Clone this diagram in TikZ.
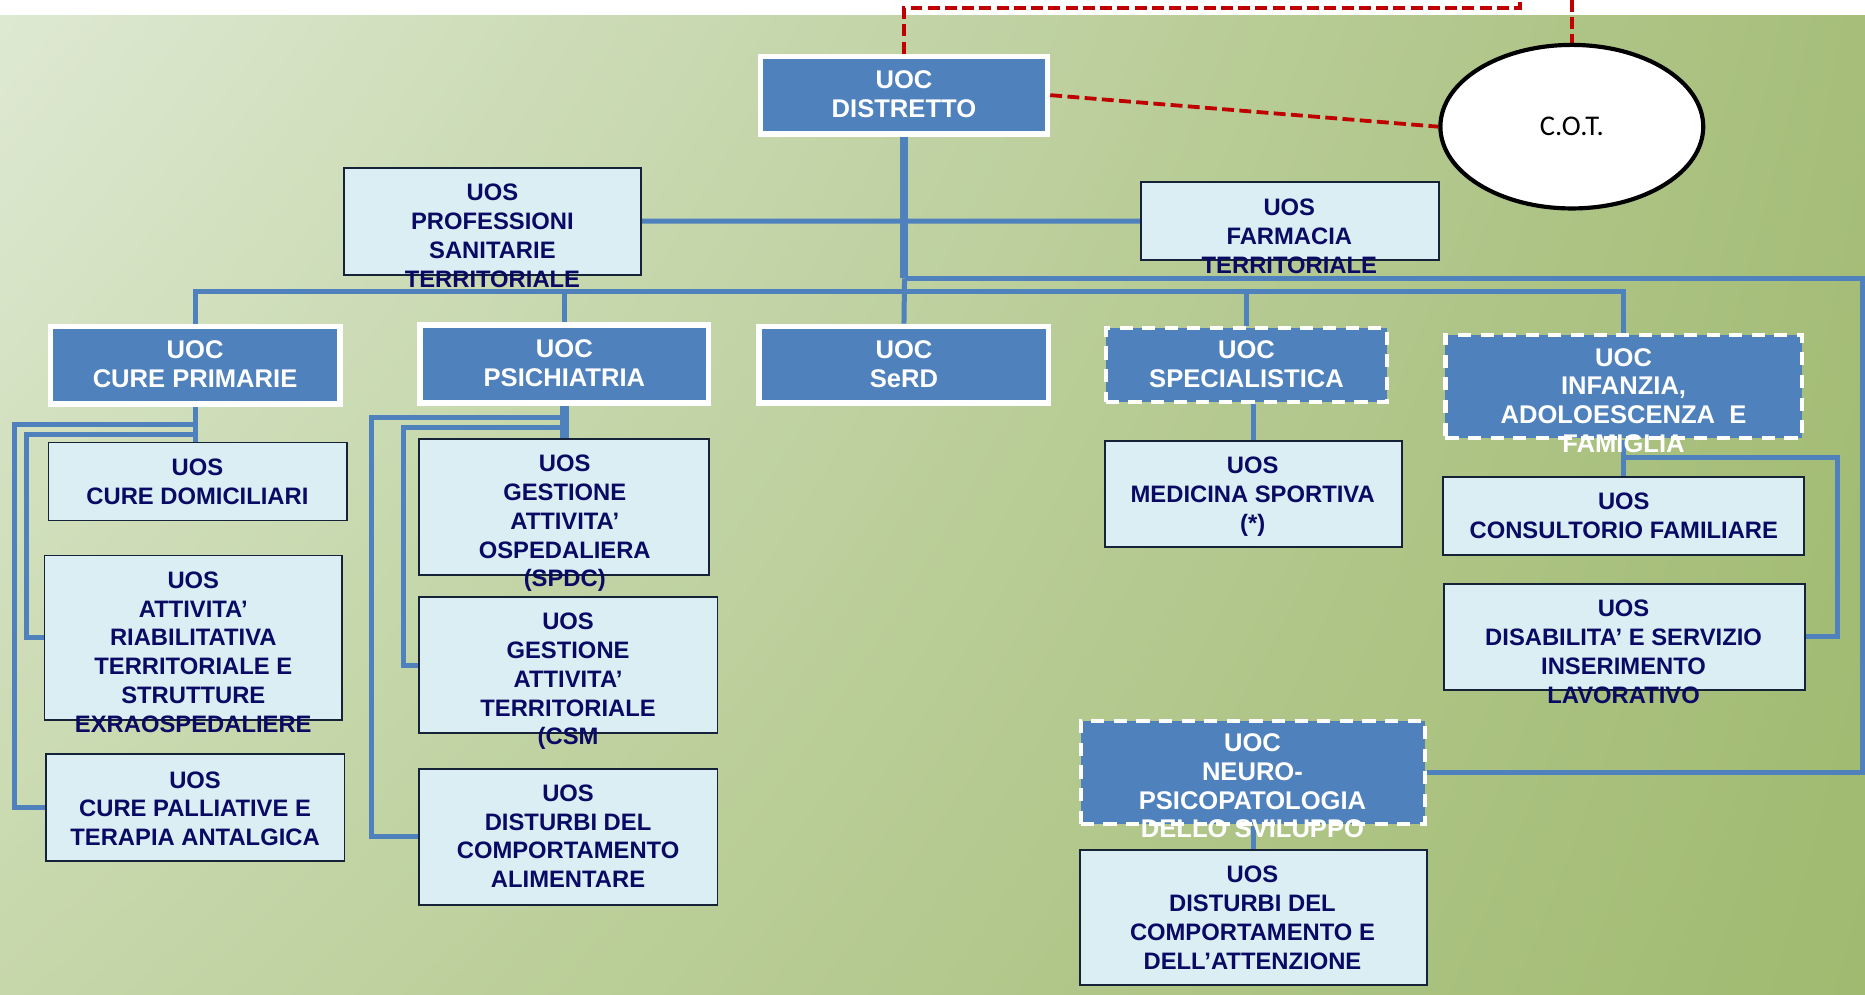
\documentclass[tikz,border=0pt]{standalone}
\usepackage{fontspec}
\setmainfont{Liberation Sans}
\newfontfamily\cotfont{Carlito}
\usetikzlibrary{shapes.geometric,shadings}
\pgfdeclarelayer{bglayer}
\pgfdeclarelayer{linelayer}
\pgfsetlayers{bglayer,linelayer,main}
\definecolor{uocblue}{RGB}{79,129,189}
\definecolor{uosfill}{RGB}{219,238,244}
\definecolor{uosborder}{RGB}{22,34,56}
\definecolor{navy}{RGB}{10,10,100}
\definecolor{cotred}{RGB}{192,0,0}
\definecolor{bgul}{RGB}{222,233,210}
\definecolor{bgur}{RGB}{166,190,122}
\definecolor{bgll}{RGB}{198,215,170}
\definecolor{bglr}{RGB}{160,186,112}
\newcommand{\obox}[6]{\node[#1, minimum width={(#5)-(#3)}, minimum height={(#6)-(#4)}] (#2) at ({((#3)+(#5))/2},{((#4)+(#6))/2}) {};}
\tikzset{
  uocbox/.style={rectangle, draw=white, line width=4.5pt, fill=uocblue, inner sep=0pt},
  uocdash/.style={rectangle, draw=white, line width=3.5pt, fill=uocblue, dash pattern=on 11pt off 8pt, inner sep=0pt},
  uosbox/.style={rectangle, draw=uosborder, line width=1.5pt, fill=uosfill, inner sep=0pt},
  uoctext/.style={anchor=north, yshift=7.9pt, inner sep=0pt, align=center, text=white, font=\bfseries\fontsize{21.5}{24.2}\selectfont},
  uostext/.style={anchor=north, yshift=7.3pt, inner sep=0pt, align=center, text=navy, font=\bfseries\fontsize{20}{24.2}\selectfont},
  conn/.style={draw=uocblue, line width=4.2pt},
  trunkline/.style={draw=uocblue, line width=7pt},
  reddash/.style={draw=cotred, line width=3.2pt, dash pattern=on 10pt off 4.5pt},
}
\begin{document}
\begin{tikzpicture}[x=1pt,y=-1pt]
\useasboundingbox (0,0) rectangle (1568,836);
% background
\begin{pgfonlayer}{bglayer}
\fill[white] (0,0) rectangle (1568,836);
\shade[upper left=bgul, upper right=bgur, lower left=bgll, lower right=bglr] (0,13) rectangle (1568,836);
\end{pgfonlayer}

% boxes
\obox{uocbox}{dist}{639.25}{47.25}{880.75}{112.75}
\obox{uocbox}{cp}{42.25}{274.25}{285.75}{339.75}
\obox{uocbox}{psi}{353.25}{273.25}{595.75}{338.75}
\obox{uocbox}{serd}{638.25}{274.25}{881.75}{338.75}
\obox{uocdash}{spec}{929.75}{275.75}{1166.25}{338.25}
\obox{uocdash}{inf}{1215.25}{281.75}{1515.25}{368.25}
\obox{uocdash}{neuro}{908.75}{606.25}{1198.25}{692.95}
\obox{uosbox}{prof}{289}{141}{539}{231}
\obox{uosbox}{farm}{959}{153.3}{1209.5}{218.6}
\obox{uosbox}{dom}{40.8}{372}{291.8}{437.6}
\obox{uosbox}{att}{37.5}{467}{287.7}{605.4}
\obox{uosbox}{pal}{38.7}{634}{289.7}{724}
\obox{uosbox}{osp}{352.5}{368.8}{596.3}{483.4}
\obox{uosbox}{ter}{352.5}{502}{603.2}{616.5}
\obox{uosbox}{ali}{352.5}{646.2}{603.2}{760.8}
\obox{uosbox}{med}{928.7}{370.7}{1178.7}{460.2}
\obox{uosbox}{cons}{1213.5}{400.8}{1517}{466.4}
\obox{uosbox}{dis}{1214}{490.7}{1517.3}{580.2}
\obox{uosbox}{adhd}{907.7}{714.7}{1199.6}{828}

\node[ellipse, draw=black, line width=3.5pt, fill=white, minimum width=221pt, minimum height=137.5pt, inner sep=0pt, font=\cotfont\fontsize{24}{28}\selectfont] (cot) at (1321.5,106.5) {C.O.T.};

% helper coordinates
\coordinate (tj) at (760.5,234);
\coordinate (busy) at (0,245);
\coordinate (rightx) at (1565.8,234);
\coordinate (cpb1) at (12,357);
\coordinate (cpb2) at (22.4,365.6);
\coordinate (psb1) at (312.6,350.6);
\coordinate (psb2) at (339.5,359.6);
\coordinate (ifb) at (1544.8,385);
\coordinate (rcorner) at (1278,7);
\coordinate (rtop) at (1278,0);

% connectors
\begin{pgfonlayer}{linelayer}
\draw[trunkline] (dist.south) -- (dist.south |- tj);
\draw[conn] (tj) -- (serd.north);
\draw[conn] (prof.east) -- (farm.west);
\draw[conn] (tj) -- (rightx) |- (neuro.east);
\draw[conn] (cp.north) -- (cp.north |- busy) -| (inf.north);
\draw[conn] (psi.north) -- (psi.north |- busy);
\draw[conn] (spec.north) -- (spec.north |- busy);
\draw[conn] (cp.south) -- (cp.south |- dom.north);
\draw[conn] (cp.south |- cpb1) -- (cpb1) |- (pal.west);
\draw[conn] (cp.south |- cpb2) -- (cpb2) |- (att.west);
\draw[trunkline] (psi.south) -- (psi.south |- osp.north);
\draw[conn] (psi.south |- psb1) -- (psb1) |- (ali.west);
\draw[conn] (psi.south |- psb2) -- (psb2) |- (ter.west);
\draw[conn] (med.north |- spec.south) -- (med.north);
\draw[conn] (inf.south) -- (inf.south |- cons.north);
\draw[conn] (inf.south |- ifb) -- (ifb) |- (dis.east);
\draw[conn] (neuro.south) -- (neuro.south |- adhd.north);
\draw[reddash] (dist.north) -- (dist.north |- rcorner) -- (rcorner) -- (rtop);
\draw[reddash] (cot.north |- rtop) -- (cot.north);
\draw[reddash] (dist.east) -- (cot.west);
\end{pgfonlayer}

% texts
\node[uoctext] (dist-t) at (760,67) {UOC\\DISTRETTO};
\node[uoctext] (cp-t) at (164,294) {UOC\\CURE PRIMARIE};
\node[uoctext] (psi-t) at (474.5,293.5) {UOC\\PSICHIATRIA};
\node[uoctext] (serd-t) at (760,294) {UOC\\SeRD};
\node[uoctext] (spec-t) at (1048,294.3) {UOC\\SPECIALISTICA};
\node[uoctext] (inf-t) at (1365,300.4) {UOC\\INFANZIA,\\ADOLOESCENZA\ \ E\\FAMIGLIA};
\node[uoctext] (neuro-t) at (1053,624.5) {UOC\\NEURO-\\PSICOPATOLOGIA\\DELLO SVILUPPO};
\node[uostext] (prof-t) at (414,162) {UOS\\PROFESSIONI\\SANITARIE\\TERRITORIALE};
\node[uostext] (farm-t) at (1084,174.4) {UOS\\FARMACIA\\TERRITORIALE};
\node[uostext] (dom-t) at (166,393) {UOS\\CURE DOMICILIARI};
\node[uostext] (att-t) at (162.5,487.7) {UOS\\ATTIVITA’\\RIABILITATIVA\\TERRITORIALE E\\STRUTTURE\\EXRAOSPEDALIERE};
\node[uostext] (pal-t) at (164,655.8) {UOS\\CURE PALLIATIVE E\\TERAPIA ANTALGICA};
\node[uostext] (osp-t) at (474.8,389.8) {UOS\\GESTIONE\\ATTIVITA’\\OSPEDALIERA\\(SPDC)};
\node[uostext] (ter-t) at (477.6,522.6) {UOS\\GESTIONE\\ATTIVITA’\\TERRITORIALE\\(CSM};
\node[uostext] (ali-t) at (477.6,666.9) {UOS\\DISTURBI DEL\\COMPORTAMENTO\\ALIMENTARE};
\node[uostext] (med-t) at (1053.2,391.6) {UOS\\MEDICINA SPORTIVA\\(*)};
\node[uostext] (cons-t) at (1365.2,421.5) {UOS\\CONSULTORIO FAMILIARE};
\node[uostext] (dis-t) at (1365,511.6) {UOS\\DISABILITA’ E SERVIZIO\\INSERIMENTO\\LAVORATIVO};
\node[uostext] (adhd-t) at (1053,735.3) {UOS\\DISTURBI DEL\\COMPORTAMENTO E\\DELL’ATTENZIONE};
\end{tikzpicture}
\end{document}
